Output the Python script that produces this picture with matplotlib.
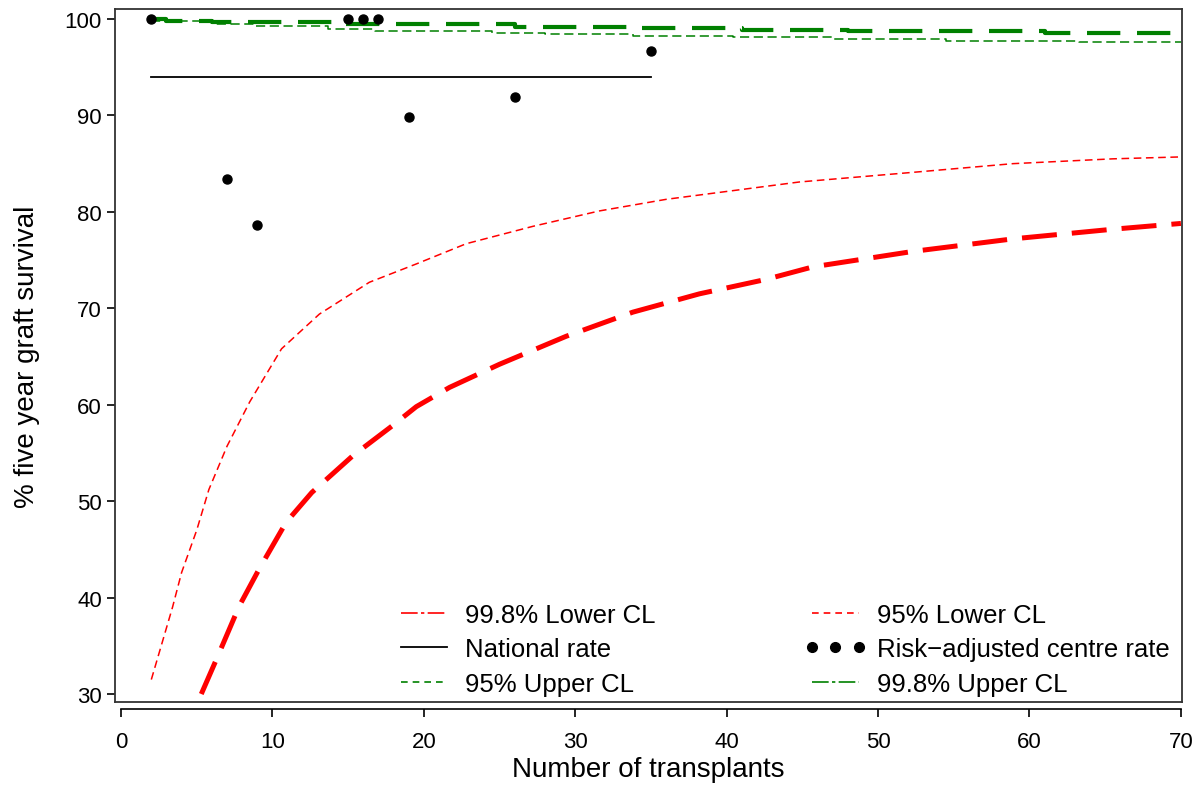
import numpy as np
import matplotlib
matplotlib.use('Agg')
import matplotlib.pyplot as plt
from matplotlib.lines import Line2D

plt.rcParams['font.family'] = ['Liberation Sans', 'DejaVu Sans']

# 95% lower CL (thin red dashes)
lo95_x = [2, 3.4, 4.0, 5.0, 5.8, 7.0, 8.5, 10.6, 13.1, 16.4, 19.5, 22.8, 27.2,
          31.6, 36.0, 40.4, 44.8, 52.3, 58.9, 65.5, 70]
lo95_y = [31.5, 39.0, 42.6, 47.0, 51.2, 55.7, 60.3, 65.8, 69.4, 72.7, 74.6, 76.7,
          78.5, 80.1, 81.3, 82.2, 83.1, 84.1, 85.0, 85.5, 85.7]

# 99.8% lower CL (thick red dashes)
lo998_x = [5.3, 6.3, 7.8, 9.1, 10.9, 12.6, 15.3, 17.9, 19.5, 21.7, 25.0, 29.4,
           33.8, 38.2, 42.6, 45.7, 52.3, 58.9, 65.5, 70]
lo998_y = [30.0, 33.6, 39.1, 42.9, 47.8, 50.9, 54.7, 57.8, 59.8, 61.8, 64.2, 67.1,
           69.6, 71.5, 73.0, 74.3, 75.9, 77.2, 78.2, 78.8]

# upper CLs (step-like)
up998_x = [2, 3, 6, 14.4, 26, 33.6, 41, 48, 61, 70]
up998_y = [100.0, 99.8, 99.66, 99.48, 99.2, 99.03, 98.9, 98.72, 98.55, 98.55]

up95_x = [2, 6.3, 8.7, 13.7, 16.8, 24.5, 28, 33.8, 40.4, 47, 54.5, 63.3, 70]
up95_y = [99.8, 99.5, 99.3, 98.96, 98.72, 98.55, 98.44, 98.27, 98.1, 97.93,
          97.75, 97.6, 97.6]

# national rate
nat_x = [2, 35]
nat_y = [94.0, 94.0]

# centres
centre_n = [2, 7, 9, 15, 16, 17, 19, 26, 35]
centre_rate = [100, 83.4, 78.6, 100, 100, 100, 89.8, 91.9, 96.7]

fig = plt.figure(figsize=(12.04, 8.12), dpi=100)
ax = fig.add_axes([0.0955, 0.1342, 0.8862, 0.8535])

ax.plot(lo95_x, lo95_y, color='#ff0000', lw=1.1, dashes=(5, 3))
ax.plot(lo998_x, lo998_y, color='#ff0000', lw=3.6, dashes=(7, 3))
ax.plot(up95_x, up95_y, color='#008000', lw=1.1, dashes=(6, 3), drawstyle='steps-post')
ax.plot(up998_x, up998_y, color='#008000', lw=3.0, dashes=(8, 4), drawstyle='steps-post')
ax.plot(nat_x, nat_y, color='black', lw=1.3)
ax.plot(centre_n, centre_rate, 'o', color='black', ms=6.5, zorder=5)

ax.set_xlim(-0.4, 70.07)
ax.set_ylim(29.17, 101.04)
ax.set_yticks(np.arange(30, 101, 10))
ax.tick_params(axis='y', labelsize=16, length=6, width=1.2, direction='out')
ax.tick_params(axis='x', bottom=False, labelbottom=False)
for s in ax.spines.values():
    s.set_linewidth(1.3)
    s.set_color('#333333')
ax.set_ylabel('% five year graft survival', fontsize=20, labelpad=18)

# detached x axis
sec = ax.secondary_xaxis('bottom')
sec.spines['bottom'].set_position(('outward', 5))
sec.spines['bottom'].set_bounds(0, 70)
sec.spines['bottom'].set_linewidth(1.2)
sec.set_xticks(np.arange(0, 71, 10))
sec.tick_params(labelsize=16, length=6, width=1.2, pad=10)
sec.set_xlabel('Number of transplants', fontsize=20, labelpad=3)

handles = [
    Line2D([], [], color='#ff0000', lw=1.2, dashes=(10, 2, 2, 2)),
    Line2D([], [], color='black', lw=1.3),
    Line2D([], [], color='#008000', lw=1.2, dashes=(4, 3)),
    Line2D([], [], color='#ff0000', lw=1.2, dashes=(4, 3)),
    Line2D([], [], color='black', marker='o', ms=7, ls='none'),
    Line2D([], [], color='#008000', lw=1.2, dashes=(10, 2, 2, 2)),
]
labels = ['99.8% Lower CL', 'National rate', '95% Upper CL',
          '95% Lower CL', 'Risk\u2212adjusted centre rate', '99.8% Upper CL']
ax.legend(handles, labels, ncol=2, loc='lower left', bbox_to_anchor=(0.239, -0.025),
          frameon=False, fontsize=18.5, handlelength=2.4, handletextpad=0.4,
          columnspacing=5.8, labelspacing=0.42, numpoints=3, borderpad=0.4)

fig.savefig('out.png', dpi=100)
